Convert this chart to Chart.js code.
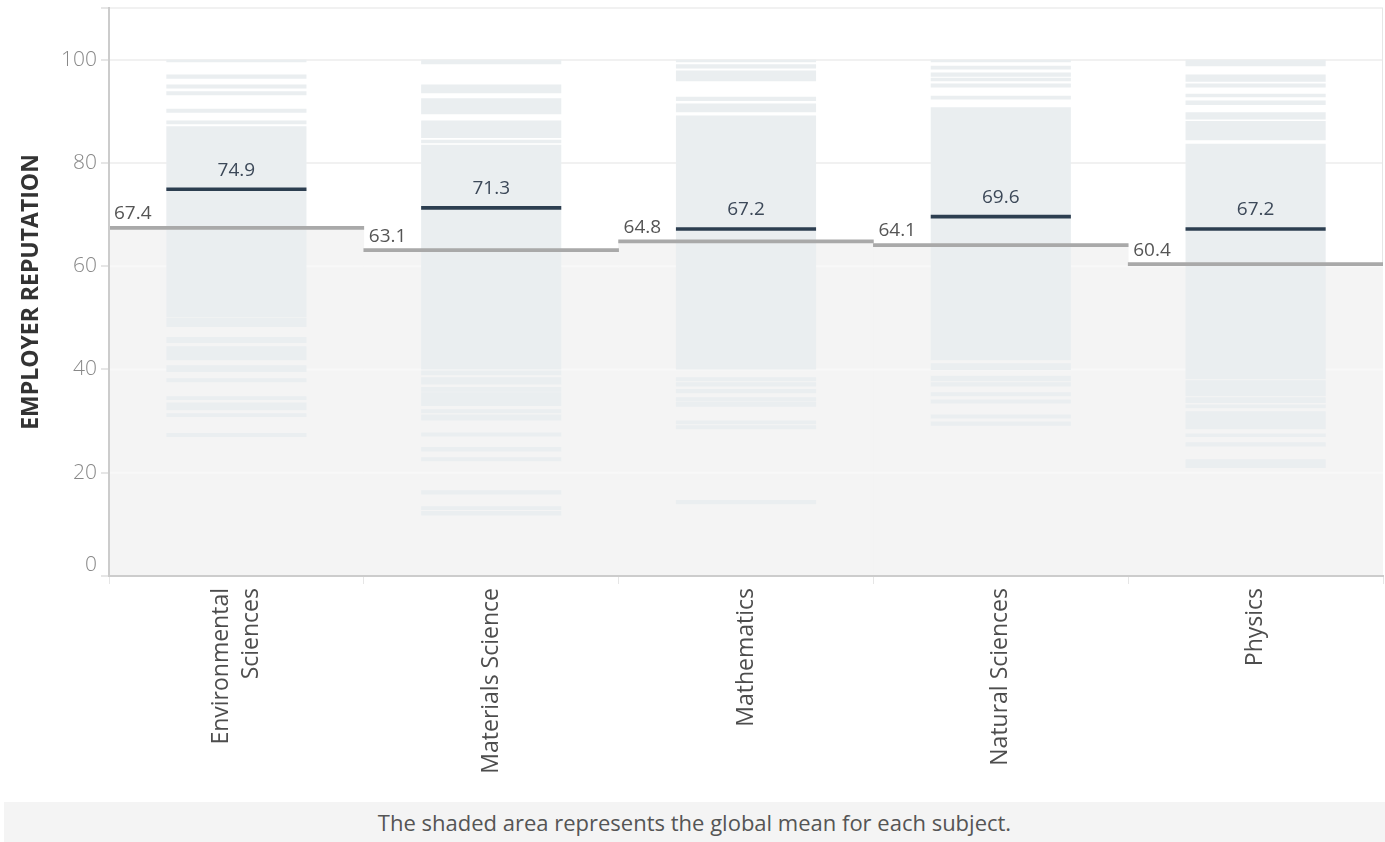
<!DOCTYPE html>
<html>
<head>
<meta charset="utf-8">
<script src="https://cdn.jsdelivr.net/npm/chart.js@4.4.1/dist/chart.umd.min.js"></script>
<style>
  body { margin: 0; background: #fff; font-family: "Open Sans", sans-serif; }
  #wrap { width: 1385px; height: 800px; position: relative; }
  #note {
    margin: 2px 0 0 4px; width: 1381px; height: 40px; line-height: 40px;
    background: #f4f4f4; color: #555; font-size: 22px; text-align: center;
  }
</style>
</head>
<body>
<div id="wrap"><canvas id="chart"></canvas></div>
<div id="note">The shaded area represents the global mean for each subject.</div>
<script>
const subjects = ["Environmental Sciences", "Materials Science", "Mathematics", "Natural Sciences", "Physics"];
const globalMean = [67.4, 63.1, 64.8, 64.1, 60.4];
const subjectScore = [74.9, 71.3, 67.2, 69.6, 67.2];

// score bands of the individual institutions, [low, high]
const envSci = [[99.5, 100], [96.3, 97.1], [94.4, 95.2], [93.1, 93.9], [89.7, 90.5], [87.5, 88.2],
  [50.1, 87.1], [48.2, 50.0], [45.1, 46.3], [41.8, 44.5], [39.5, 40.8], [37.5, 38.3],
  [34.1, 34.8], [32.1, 33.6], [30.8, 31.5], [26.9, 27.7]];
const matSci = [[99.1, 100], [93.5, 95.2], [89.4, 92.5], [84.8, 88.2], [83.8, 84.5], [40.0, 83.5],
  [38.9, 39.8], [37.1, 38.5], [35.7, 36.6], [32.9, 35.6], [31.5, 32.3], [30.1, 31.3],
  [27.0, 27.8], [24.1, 25.0], [22.2, 23.0], [15.8, 16.6], [12.8, 13.5], [11.7, 12.6]];
const maths = [[99.5, 100], [98.3, 99.1], [95.8, 97.9], [92.0, 92.8], [89.8, 91.5], [40.0, 89.2],
  [37.7, 38.5], [36.7, 37.5], [35.4, 36.2], [33.8, 34.6], [32.8, 33.7], [29.4, 30.1],
  [28.4, 29.2], [13.9, 14.7]];
const natSci = [[99.5, 100], [98.1, 98.8], [96.7, 97.5], [95.8, 96.5], [94.6, 95.4], [92.3, 93.0],
  [41.8, 90.8], [39.9, 41.2], [37.7, 38.8], [36.7, 37.5], [34.8, 35.6], [33.4, 34.2],
  [30.5, 31.3], [29.1, 29.9]];
const physics = [[98.7, 100], [95.7, 97.1], [94.6, 95.4], [92.7, 93.4], [91.2, 92.1], [88.4, 89.8],
  [84.4, 88.1], [38.1, 83.7], [34.8, 37.9], [33.5, 34.6], [32.5, 33.2], [28.4, 31.9],
  [26.9, 27.6], [25.1, 25.9], [20.9, 22.6]];

const bands = [envSci, matSci, maths, natSci, physics];
const stripData = [];
bands.forEach((list, i) => {
  list.forEach(b => stripData.push({ x: subjects[i], y: b }));
});

// nudge tick labels: center two-line category labels, lift the "0" label off the axis
function patchLabels(scale) {
  if (scale._patched) return;
  scale._patched = true;
  const orig = scale._computeLabelItems;
  scale._computeLabelItems = function (area) {
    const items = orig.call(this, area);
    items.forEach(it => {
      const t = it.options.translation;
      if (Array.isArray(it.label) && it.label.length > 1) {
        t[0] -= (it.label.length - 1) * it.font.lineHeight / 2;
      }
      if (this.axis === "y" && String(it.label) === "0") t[1] -= 11;
    });
    return items;
  };
}

const labelPlugin = {
  id: "valueLabels",
  beforeDatasetsDraw(chart) {
    const { ctx, chartArea } = chart;
    ctx.save();
    ctx.strokeStyle = "#e6e6e6";
    ctx.lineWidth = 1;
    ctx.beginPath();
    ctx.moveTo(chartArea.right - 0.5, chartArea.top);
    ctx.lineTo(chartArea.right - 0.5, chartArea.bottom);
    ctx.stroke();
    ctx.restore();
  },
  // grid lines show faintly through the shaded area, under the strips
  beforeDatasetDraw(chart, args) {
    if (args.index !== 2) return;
    const { ctx } = chart;
    const xs = chart.scales.x, ys = chart.scales.y;
    const half = (xs.getPixelForValue(1) - xs.getPixelForValue(0)) / 2;
    ctx.save();
    ctx.strokeStyle = "#f8f8f8";
    ctx.lineWidth = 2;
    ys.ticks.forEach(t => {
      if (t.value <= 0) return;
      const y = ys.getPixelForValue(t.value);
      globalMean.forEach((m, i) => {
        if (t.value >= m) return;
        const cx = xs.getPixelForValue(i);
        ctx.beginPath();
        ctx.moveTo(cx - half, y);
        ctx.lineTo(cx + half, y);
        ctx.stroke();
      });
    });
    ctx.restore();
  },
  afterDatasetsDraw(chart) {
    const { ctx } = chart;
    const xs = chart.scales.x, ys = chart.scales.y;
    const half = (xs.getPixelForValue(1) - xs.getPixelForValue(0)) / 2;
    ctx.save();
    ctx.font = "19px 'Open Sans'";
    ctx.textBaseline = "middle";
    subjects.forEach((s, i) => {
      const cx = xs.getPixelForValue(i);
      ctx.fillStyle = "#3c4858";
      ctx.textAlign = "center";
      ctx.fillText(subjectScore[i].toFixed(1), cx, ys.getPixelForValue(subjectScore[i]) - 19);
      ctx.fillStyle = "#555";
      ctx.textAlign = "left";
      ctx.fillText(globalMean[i].toFixed(1), cx - half + 5, ys.getPixelForValue(globalMean[i]) - 14);
    });
    ctx.restore();
  }
};

new Chart(document.getElementById("chart"), {
  type: "bar",
  data: {
    labels: subjects,
    datasets: [
      {
        label: "Score",
        data: subjectScore.map(v => [v - 0.36, v + 0.36]),
        backgroundColor: "#2c3e50",
        barPercentage: 0.55, categoryPercentage: 1,
        grouped: false, order: 1
      },
      {
        label: "Global mean",
        data: globalMean.map(v => [v - 0.3, v + 0.3]),
        backgroundColor: "#a9a9a9",
        barPercentage: 1, categoryPercentage: 1,
        grouped: false, order: 2
      },
      {
        label: "Institutions",
        data: stripData,
        backgroundColor: "#eaeef0",
        barPercentage: 0.55, categoryPercentage: 1,
        grouped: false, order: 3
      },
      {
        label: "Shade",
        data: globalMean.map(v => [0, v]),
        backgroundColor: "#f4f4f4",
        barPercentage: 1, categoryPercentage: 1,
        grouped: false, order: 4
      }
    ]
  },
  options: {
    responsive: true,
    maintainAspectRatio: false,
    animation: false,
    events: [],
    layout: { padding: { top: 8, right: 2, left: 0, bottom: 0 } },
    plugins: { legend: { display: false }, tooltip: { enabled: false } },
    scales: {
      x: {
        grid: { drawOnChartArea: false, tickLength: 8, color: "#e6e6e6", offset: true },
        border: { color: "#cccccc", width: 2, z: 1 },
        ticks: {
          minRotation: 90, maxRotation: 90, padding: 4,
          color: "#4d4d4d", font: { family: "Open Sans", size: 23, lineHeight: 1.32 },
          callback(value) {
            const l = this.getLabelForValue(value);
            return l === "Environmental Sciences" ? ["Environmental", "Sciences"] : l;
          }
        },
        afterFit(scale) {
          scale.height = 224;
          scale.paddingLeft = 0;
          scale.paddingRight = 0;
        },
        afterUpdate: patchLabels
      },
      y: {
        min: 0, max: 110,
        grid: { color: "#f1f1f1", lineWidth: 2, tickLength: 8, tickColor: "#e6e6e6" },
        border: { color: "#cccccc", width: 2, z: 1 },
        ticks: {
          stepSize: 20, padding: 4,
          color: "#888", font: { family: "Open Sans", size: 21, weight: 300 },
          callback: v => (v % 20 === 0 ? v : "")
        },
        title: {
          display: true, text: "EMPLOYER REPUTATION",
          color: "#333", font: { family: "Open Sans", size: 23, weight: "bold" },
          padding: { top: 18, bottom: 0 }
        },
        afterFit(scale) {
          scale.width = 109;
          scale.paddingTop = 0;
          scale.paddingBottom = 0;
        },
        afterUpdate: patchLabels
      }
    }
  },
  plugins: [labelPlugin]
});
</script>
</body>
</html>
